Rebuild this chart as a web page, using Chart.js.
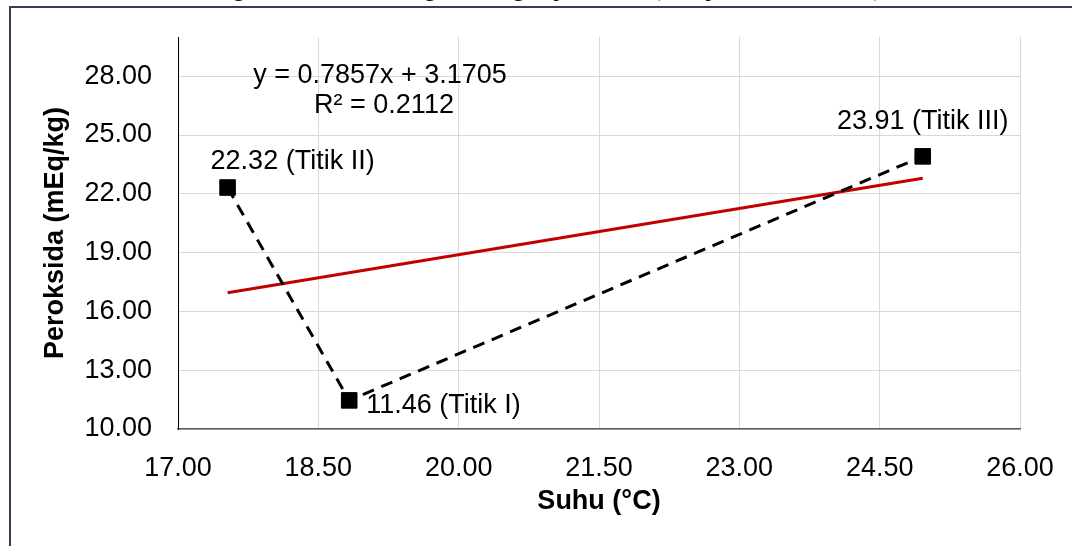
<!DOCTYPE html>
<html>
<head>
<meta charset="utf-8">
<script src="https://cdn.jsdelivr.net/npm/chart.js@4.4.1/dist/chart.umd.min.js"></script>
<style>
  html, body { margin: 0; padding: 0; background: #fff; }
  #wrap { width: 1072px; height: 546px; position: relative; }
</style>
</head>
<body>
<div id="wrap"><canvas id="peroksidaChart" width="1072" height="546"></canvas></div>
<script>
// values
const pointLabels = ['22.32 (Titik II)', '11.46 (Titik I)', '23.91 (Titik III)'];
const suhu = [17.53, 18.83, 24.96];
const peroksida = [22.32, 11.46, 23.91];
const trendX = [17.53, 24.96];
const trendY = [16.95, 22.79];
const xTicks = [17, 18.5, 20, 21.5, 23, 24.5, 26];
const yTicks = [10, 13, 16, 19, 22, 25, 28];
const equationText = ['y = 0.7857x + 3.1705', 'R² = 0.2112'];

const FONT = "'Liberation Sans', Arial, sans-serif";

// frame around the figure + cut-off caption line above it
const framePlugin = {
  id: 'frame',
  beforeDraw(chart) {
    const ctx = chart.ctx;
    ctx.save();
    ctx.fillStyle = '#fff';
    ctx.fillRect(0, 0, chart.width, chart.height);
    ctx.fillStyle = '#000';
    ctx.font = "24px 'Liberation Serif', 'Times New Roman', serif";
    ctx.textBaseline = 'alphabetic';
    ctx.fillText('Gambar 4. Hubungan antara suhu dengan bilangan peroksida (titik pada lokasi, 2023).', 60, -4);
    ctx.strokeStyle = '#333f50';
    ctx.lineWidth = 2;
    ctx.strokeRect(10, 7, chart.width + 20, chart.height + 20);
    ctx.restore();
  }
};

// point labels and the trendline equation
const labelPlugin = {
  id: 'labels',
  afterDatasetsDraw(chart) {
    const ctx = chart.ctx;
    const pts = chart.getDatasetMeta(0).data;
    ctx.save();
    ctx.fillStyle = '#000';
    ctx.font = '27px ' + FONT;
    ctx.textBaseline = 'alphabetic';

    ctx.textAlign = 'left';
    ctx.fillText(pointLabels[0], pts[0].x - 17, pts[0].y - 19);
    ctx.fillText(pointLabels[1], pts[1].x + 17, pts[1].y + 13);
    ctx.textAlign = 'center';
    ctx.fillText(pointLabels[2], pts[2].x, pts[2].y - 27);

    ctx.fillText(equationText[0], 380, 83);
    ctx.fillText(equationText[1], 384, 113);
    ctx.restore();
  }
};

const ctx = document.getElementById('peroksidaChart').getContext('2d');
new Chart(ctx, {
  type: 'scatter',
  data: {
    datasets: [
      {
        label: 'Peroksida',
        data: suhu.map((x, i) => ({ x: x, y: peroksida[i] })),
        showLine: true,
        borderColor: '#000',
        borderWidth: 3,
        borderDash: [12, 8],
        pointStyle: 'rect',
        pointRadius: 11,
        pointBorderWidth: 1,
        pointBackgroundColor: '#000',
        pointBorderColor: '#000',
        order: 1
      },
      {
        label: 'Linear',
        data: trendX.map((x, i) => ({ x: x, y: trendY[i] })),
        showLine: true,
        borderColor: '#c00000',
        borderWidth: 3,
        pointRadius: 0,
        order: 2
      }
    ]
  },
  options: {
    responsive: false,
    animation: false,
    layout: { padding: { left: 0, right: 52, top: 37, bottom: 0 } },
    plugins: {
      legend: { display: false },
      tooltip: { enabled: false }
    },
    scales: {
      x: {
        type: 'linear',
        min: 17,
        max: 26,
        afterBuildTicks: scale => { scale.ticks = xTicks.map(v => ({ value: v })); },
        afterFit: scale => {
          scale.height = 117;
          scale.paddingLeft = 0;
          scale.paddingRight = 0;
        },
        grid: { color: '#d9d9d9', lineWidth: 1, drawTicks: false },
        border: { color: '#595959', width: 1.5 },
        ticks: {
          padding: 23,
          color: '#000',
          font: { family: FONT, size: 27 },
          callback: v => Number(v).toFixed(2)
        },
        title: {
          display: true,
          text: 'Suhu (°C)',
          color: '#000',
          font: { family: FONT, size: 27, weight: 'bold' },
          padding: { top: 0, bottom: 28 }
        }
      },
      y: {
        type: 'linear',
        min: 10,
        max: 30,
        afterBuildTicks: scale => { scale.ticks = yTicks.map(v => ({ value: v })); },
        afterFit: scale => {
          scale.width = 178;
          scale.paddingTop = 0;
          scale.paddingBottom = 0;
        },
        grid: { color: '#d9d9d9', lineWidth: 1, drawTicks: false },
        border: { color: '#000', width: 1 },
        ticks: {
          padding: 26,
          color: '#000',
          font: { family: FONT, size: 27 },
          callback: v => Number(v).toFixed(2)
        },
        title: {
          display: true,
          text: 'Peroksida (mEq/kg)',
          color: '#000',
          font: { family: FONT, size: 27, weight: 'bold' },
          padding: { top: 39, bottom: 0 }
        }
      }
    }
  },
  plugins: [framePlugin, labelPlugin]
});
</script>
</body>
</html>
